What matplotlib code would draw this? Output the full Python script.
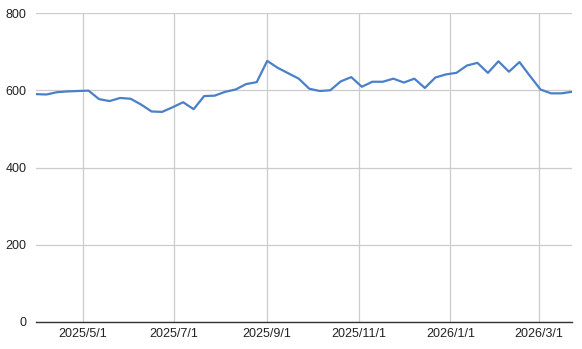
import numpy as np
import pandas as pd
import matplotlib
matplotlib.use("Agg")
import matplotlib.pyplot as plt
import matplotlib.dates as mdates
from matplotlib.ticker import FuncFormatter, MultipleLocator

# weekly values, starting Monday 2025-03-31
start_date = "2025-03-31"
values = [590, 589, 595, 597, 598, 599, 577, 572, 580, 578,
          563, 545, 544, 556, 569, 551, 585, 586, 596, 602,
          616, 621, 676, 658, 644, 630, 604, 598, 600, 623,
          634, 609, 622, 622, 630, 620, 630, 606, 633, 641,
          645, 664, 671, 645, 675, 648, 673, 637, 602, 592,
          592, 596]
dates = pd.date_range(start_date, periods=len(values), freq="7D")

plt.rcParams['font.family'] = ['Liberation Sans', 'DejaVu Sans']

fig = plt.figure(figsize=(5.82, 3.49), dpi=100)
ax = fig.add_axes([36/582, 1 - 322/349, (572-36)/582, (322-13)/349])

ax.plot(dates, values, color='#4a80c8', linewidth=1.6)

ax.set_xlim(dates[0], dates[-1])
ax.set_ylim(0, 800)
ax.yaxis.set_major_locator(MultipleLocator(200))
ax.xaxis.set_major_locator(mdates.MonthLocator(bymonth=[1, 3, 5, 7, 9, 11]))
ax.xaxis.set_major_formatter(FuncFormatter(
    lambda v, p: (lambda d: f"{d.year}/{d.month}/{d.day}")(mdates.num2date(v))))

ax.grid(True, color='#cccccc', linewidth=0.9)
ax.set_axisbelow(True)
for s in ['top', 'right', 'left']:
    ax.spines[s].set_visible(False)
ax.spines['bottom'].set_color('#333333')
ax.spines['bottom'].set_linewidth(1.0)
ax.tick_params(length=0, labelsize=9, colors='#222222')
ax.tick_params(axis='x', pad=4)
ax.tick_params(axis='y', pad=7)

fig.savefig('out.png', dpi=100)
